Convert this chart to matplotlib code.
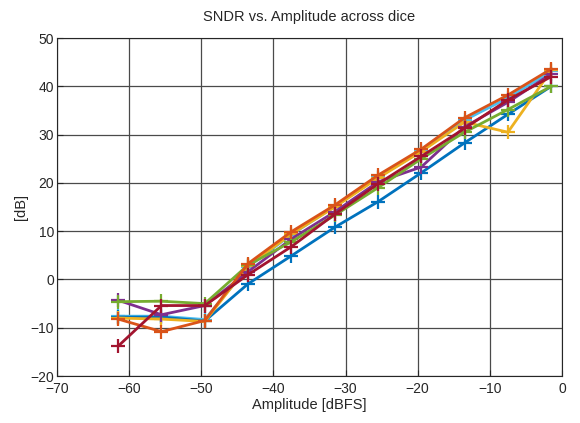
## SNDR vs amplitude plot
import numpy as np
import matplotlib
matplotlib.use('Agg')
from matplotlib import pyplot as plt

## Data
amp = [-61.5, -55.5, -49.5, -43.5, -37.5, -31.5, -25.5, -19.5, -13.5, -7.5, -1.5]
die1 = [-7.8, -7.8, -8.6, -0.9, 4.9, 10.8, 16.1, 22.1, 28.3, 34.2, 40.0]
die2 = [-8.2, -10.8, -8.5, 3.3, 9.9, 15.4, 21.6, 27.0, 33.5, 38.2, 43.6]
die3 = [-8.0, -8.2, -8.7, 2.8, 9.4, 15.0, 21.0, 26.5, 32.6, 30.5, 43.3]
die4 = [-4.3, -7.3, -5.4, 1.6, 8.4, 14.0, 20.2, 23.3, 31.6, 36.7, 42.6]
die5 = [-4.6, -4.5, -5.0, 3.0, 7.8, 13.3, 19.0, 25.0, 30.5, 35.2, 40.0]
die6 = [-7.6, -7.6, -8.3, 2.6, 9.3, 15.1, 21.2, 26.6, 33.0, 37.6, 43.1]
die7 = [-13.8, -5.4, -5.4, 1.0, 6.8, 13.5, 19.8, 25.5, 31.3, 37.2, 42.0]

## light blue drawn first so the others sit on top of it
dice = [die6, die1, die3, die4, die5, die2, die7]
colors = ['#4DBEEE', '#0072BD', '#EDB120', '#7E2F8E', '#77AC30', '#D95319', '#A2142F']

plt.rcParams['font.family'] = ['Liberation Sans', 'DejaVu Sans']

fig = plt.figure(figsize=(5.8, 4.23), dpi=100)
ax = fig.add_axes([0.098, 0.111, 0.871, 0.799])

## Plot each die
for d, c in zip(dice, colors):
    ax.plot(amp, d, color=c, linewidth=2, marker='+', markersize=10, markeredgewidth=1.6)

ax.set_xlim(-70, 0)
ax.set_ylim(-20, 50)
ax.set_xticks(np.arange(-70, 1, 10))
ax.set_yticks(np.arange(-20, 51, 10))
ax.grid(True, color='#4a4a4a', linewidth=0.9)
ax.set_axisbelow(True)
ax.tick_params(direction='in', labelsize=10, colors='#262626', length=4)
ax.tick_params(axis='x', pad=4)
ax.tick_params(axis='y', pad=2)
for s in ax.spines.values():
    s.set_color('#262626')

ax.set_title('SNDR vs. Amplitude across dice', fontsize=10.5, color='#262626', pad=12)
ax.set_xlabel('Amplitude [dBFS]', fontsize=10.5, color='#262626', labelpad=2)
ax.set_ylabel('[dB]', fontsize=10.5, color='#262626', labelpad=2)

fig.savefig('out.png', dpi=100)
